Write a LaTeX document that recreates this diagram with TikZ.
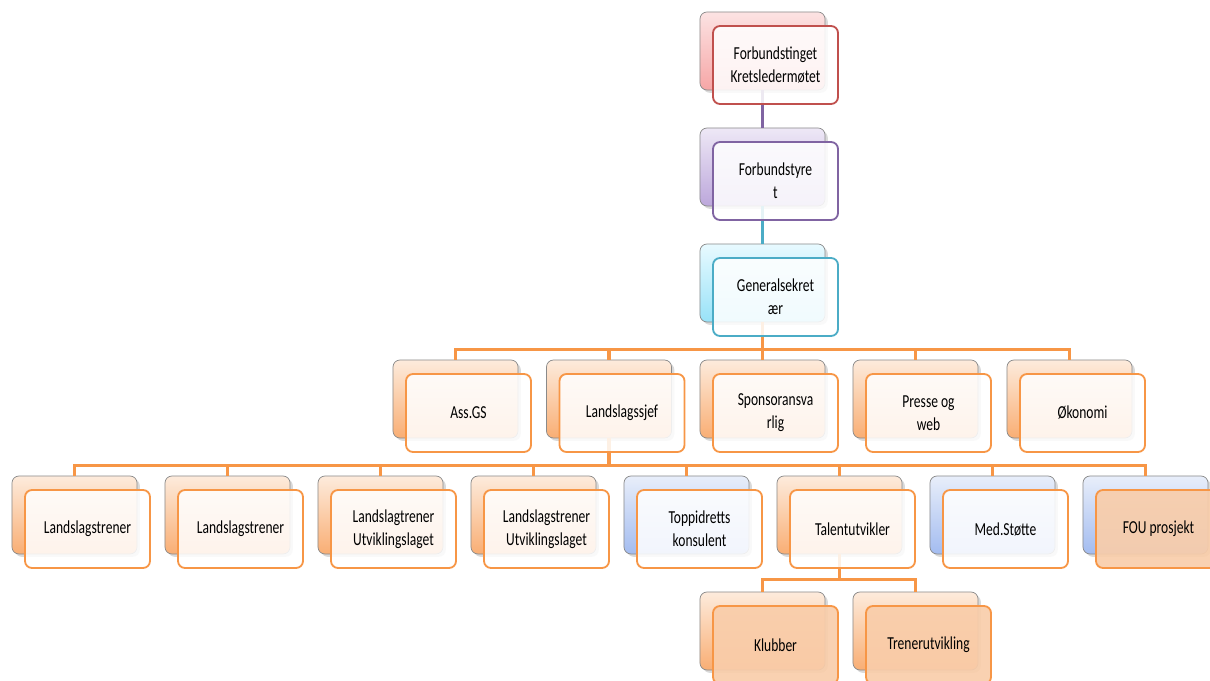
\documentclass[tikz,border=0pt]{standalone}
\usepackage{fontspec}
\setmainfont{Carlito}
\newfontfamily\cond[FakeStretch=0.74]{Carlito}
\usetikzlibrary{positioning,shadows,calc}
\definecolor{cOrg}{HTML}{F79646}
\definecolor{cOrgT}{HTML}{FDEBDC}
\definecolor{cOrgB}{HTML}{F9AE74}
\definecolor{cBlueT}{HTML}{E8EEFA}
\definecolor{cBlueB}{HTML}{A3BCF0}
\definecolor{cPinkT}{HTML}{FCE3E3}
\definecolor{cPinkB}{HTML}{F6A6A6}
\definecolor{cPurpT}{HTML}{EEE8F6}
\definecolor{cPurpB}{HTML}{BCA7DB}
\definecolor{cCyanT}{HTML}{E8FAFF}
\definecolor{cCyanB}{HTML}{98E2F8}
\definecolor{cRed}{HTML}{C0504D}
\definecolor{cPurp}{HTML}{8064A2}
\definecolor{cCyan}{HTML}{4BACC6}
\definecolor{cPeach}{HTML}{F9CDAA}
\definecolor{cEdge}{HTML}{8A8A8A}

\begin{document}
\begin{tikzpicture}[
  x=0.025cm,y=-0.025cm,
  font={\cond\fontsize{13}{16.5}\selectfont},
  base/.style={rectangle,rounded corners=5pt,minimum width=3.125cm,minimum height=1.95cm,inner sep=2pt},
  back/.style={base,draw=cEdge,line width=0.5pt,
    drop shadow={shadow xshift=2pt,shadow yshift=-2pt,opacity=0.3}},
  bOrg/.style={back,top color=cOrgT,bottom color=cOrgB},
  bBlue/.style={back,top color=cBlueT,bottom color=cBlueB},
  bPink/.style={back,top color=cPinkT,bottom color=cPinkB},
  bPurp/.style={back,top color=cPurpT,bottom color=cPurpB},
  bCyan/.style={back,top color=cCyanT,bottom color=cCyanB},
  front/.style={base,line width=1.3pt,fill=white,fill opacity=0.86,text opacity=1,
    align=center,xshift=0.325cm,yshift=-0.35cm},
  fOrg/.style={front,draw=cOrg},
  fPeach/.style={front,draw=cOrg,fill=cPeach,fill opacity=0.92},
  fRed/.style={front,draw=cRed},
  fPurp/.style={front,draw=cPurp},
  fCyan/.style={front,draw=cCyan},
  link/.style={line width=2.6pt,color=cOrg},
]
\useasboundingbox (0,0) rectangle (1210,681);

% ---- back cards (shaded, with shadow)
\foreach \n/\x/\y/\s in {ting/762.5/51/bPink, styre/762.5/167/bPurp, gs/762.5/283/bCyan,
    ass/455.5/399/bOrg, sjef/609/399/bOrg, spons/762.5/399/bOrg, presse/915.5/399/bOrg, oko/1069.5/399/bOrg,
    lt1/74.5/515/bOrg, lt2/227.5/515/bOrg, ltu1/380.5/515/bOrg, ltu2/533.5/515/bOrg,
    topp/686.5/515/bBlue, talent/839.5/515/bOrg, med/992.5/515/bBlue, fou/1145.5/515/bBlue,
    klubb/762.5/631/bOrg, trener/915.5/631/bOrg}
  \node[\s] (\n) at (\x,\y) {};

% ---- connectors
\draw[link,color=cPurp] (ting.south) -- (styre.north);
\draw[link,color=cCyan] (styre.south) -- (gs.north);
\foreach \c in {ass,sjef,spons,presse,oko}
  \draw[link] (gs.south) -- ++(0cm,-0.675cm) -| (\c.north);
\foreach \c in {lt1,lt2,ltu1,ltu2,topp,talent,med,fou}
  \draw[link] (sjef.south) -- ++(0cm,-0.675cm) -| (\c.north);
\foreach \c in {klubb,trener}
  \draw[link] (talent.south) -- ++(0cm,-0.625cm) -| (\c.north);

% ---- front cards with the texts
\foreach \n/\s/\t in {ting/fRed/{Forbundstinget\\Kretsledermøtet}, styre/fPurp/{Forbundstyre\\t},
    gs/fCyan/{Generalsekret\\ær},
    ass/fOrg/{Ass.GS}, sjef/fOrg/{Landslagssjef}, spons/fOrg/{Sponsoransva\\rlig},
    presse/fOrg/{Presse og\\web}, oko/fOrg/{Økonomi},
    lt1/fOrg/{Landslagstrener}, lt2/fOrg/{Landslagstrener},
    ltu1/fOrg/{Landslagtrener\\Utviklingslaget}, ltu2/fOrg/{Landslagstrener\\Utviklingslaget},
    topp/fOrg/{Toppidretts\\konsulent}, talent/fOrg/{Talentutvikler}, med/fOrg/{Med.Støtte},
    fou/fPeach/{FOU prosjekt}, klubb/fPeach/{Klubber}, trener/fPeach/{Trenerutvikling}}
  \node[\s] (\n-f) at (\n) {\t};

\end{tikzpicture}
\end{document}
